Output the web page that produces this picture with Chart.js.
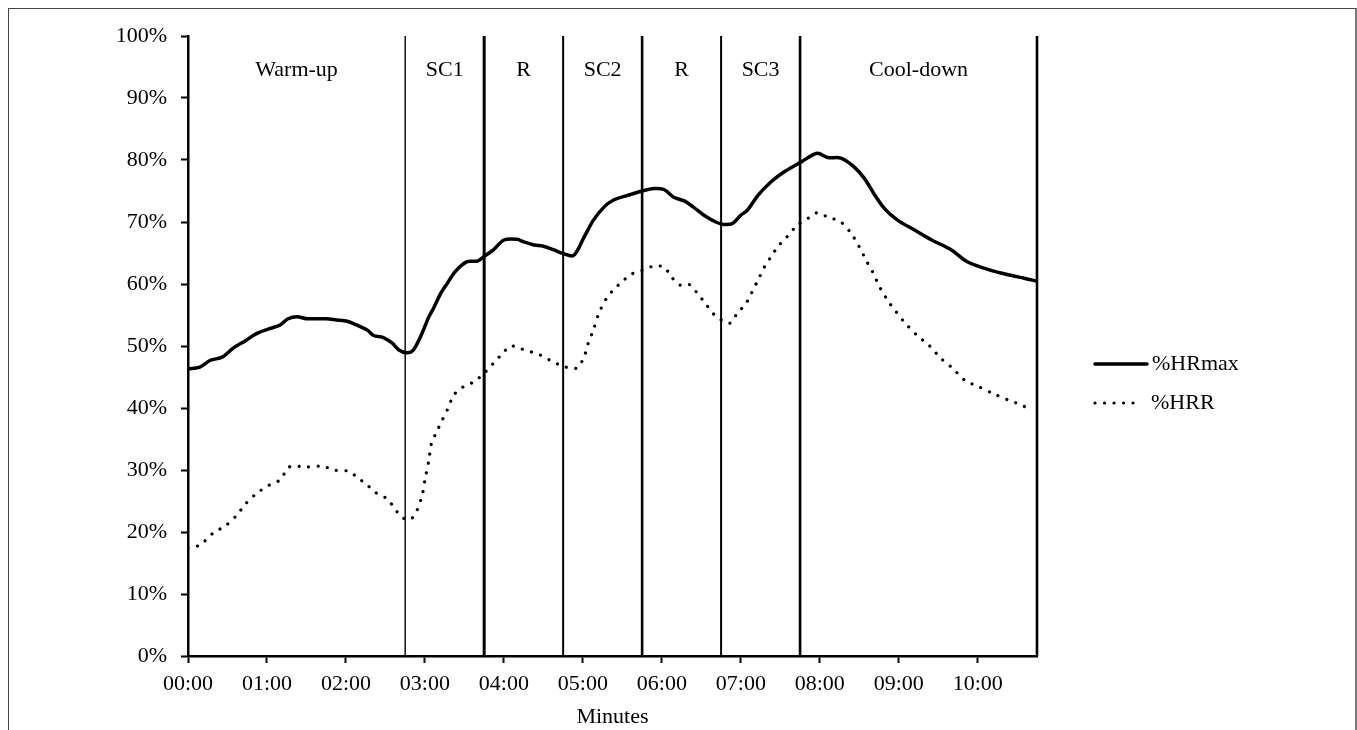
<!DOCTYPE html>
<html>
<head>
<meta charset="utf-8">
<script src="https://cdn.jsdelivr.net/npm/chart.js@4/dist/chart.umd.min.js"></script>
<style>
  html, body { margin: 0; padding: 0; background: #fff; width: 1357px; height: 730px; overflow: hidden; }
  #frame { position: absolute; left: 8px; top: 8px; width: 1346px; height: 740px;
           border-left: 1px solid #444; border-top: 1px solid #444; border-right: 2px solid #7a7a7a; }
  #wrap { position: absolute; left: 0; top: 0; width: 1357px; height: 730px; }
</style>
</head>
<body>
<div id="frame"></div>
<div id="wrap"><canvas id="c" width="1357" height="730"></canvas></div>
<script>
// ---- data (time in seconds, values in %) ----
const hrmaxSec = [0, 9, 17, 26, 34, 44, 52, 62, 70, 76, 83, 90, 105, 113, 121, 128, 136, 141, 148, 155, 160, 166, 171, 176, 183, 187, 192, 197, 203, 212, 220, 226, 232, 240, 250, 255, 263, 270, 278, 285, 293, 301, 308, 316, 323, 334, 345, 354, 362, 369, 377, 384, 392, 401, 407, 414, 420, 425, 433, 443, 453, 466, 478, 486, 496, 506, 514, 521, 529, 539, 552, 565, 580, 592, 610, 625, 636, 644];
const hrmaxPct = [46.3, 46.6, 47.7, 48.2, 49.6, 50.9, 52.0, 52.8, 53.4, 54.4, 54.7, 54.4, 54.4, 54.2, 54.0, 53.4, 52.6, 51.7, 51.4, 50.5, 49.4, 48.9, 49.3, 51.2, 54.7, 56.3, 58.5, 60.1, 62.0, 63.6, 63.7, 64.6, 65.5, 67.1, 67.2, 66.8, 66.3, 66.1, 65.5, 64.9, 64.6, 67.6, 70.3, 72.4, 73.5, 74.3, 75.0, 75.4, 75.2, 74.0, 73.4, 72.4, 71.1, 70.0, 69.6, 69.8, 71.1, 71.9, 74.3, 76.5, 78.1, 79.7, 81.1, 80.4, 80.3, 78.9, 77.0, 74.6, 72.2, 70.3, 68.7, 67.1, 65.5, 63.6, 62.2, 61.4, 60.9, 60.5];

const hrrSec = [0, 9, 19, 29, 37, 44, 52, 62, 70, 77, 90, 103, 110, 122, 128, 136, 143, 151, 156, 161, 166, 170, 174, 178, 180, 183, 185, 189, 193, 197, 202, 209, 217, 225, 232, 239, 245, 252, 260, 268, 275, 283, 291, 296, 301, 304, 308, 312, 318, 323, 331, 337, 345, 354, 362, 367, 374, 381, 387, 393, 400, 406, 412, 417, 424, 428, 433, 438, 443, 448, 455, 463, 471, 478, 486, 496, 504, 510, 516, 520, 523, 526, 533, 537, 544, 554, 563, 572, 581, 590, 601, 613, 623, 633, 640];
const hrrPct = [17.4, 17.9, 19.8, 21.1, 22.7, 24.6, 26.2, 27.6, 28.4, 30.5, 30.5, 30.6, 30.0, 29.8, 28.9, 27.6, 26.3, 25.4, 24.1, 22.7, 22.0, 22.2, 23.5, 26.0, 28.4, 31.6, 34.3, 36.2, 38.0, 39.7, 42.1, 43.4, 44.2, 45.6, 47.2, 48.8, 50.0, 49.6, 49.1, 48.5, 47.7, 46.9, 46.4, 46.5, 48.3, 50.4, 52.6, 55.2, 57.7, 59.0, 60.6, 61.6, 62.2, 62.9, 62.7, 61.2, 59.8, 59.9, 58.5, 56.9, 55.0, 54.1, 53.7, 55.2, 56.9, 58.5, 60.6, 62.8, 64.4, 66.0, 67.6, 69.5, 70.6, 71.5, 70.8, 70.0, 68.1, 66.0, 63.5, 62.0, 60.6, 59.3, 56.9, 55.8, 53.9, 51.7, 50.1, 48.0, 46.4, 44.5, 43.4, 42.2, 41.3, 40.5, 39.7];

const seriesNames = ['%HRmax', '%HRR'];

// phases (seconds)
const phaseNames = ['Warm-up', 'SC1', 'R', 'SC2', 'R', 'SC3', 'Cool-down'];
const phaseBounds = [0, 165, 225, 285, 345, 405, 465, 645];
// divider line widths for bounds 1..7
const dividerWidths = [1.4, 3, 2, 2.6, 2, 2.6, 2.6];

const xTickSec = [0, 60, 120, 180, 240, 300, 360, 420, 480, 540, 600];
const yTickPct = [0, 10, 20, 30, 40, 50, 60, 70, 80, 90, 100];

const FONT = "'Liberation Serif', 'Times New Roman', serif";
const FSIZE = 22;

function mmss(s) {
  const m = Math.floor(s / 60), r = s % 60;
  return String(m).padStart(2, '0') + ':' + String(r).padStart(2, '0');
}

const phasePlugin = {
  id: 'phases',
  beforeDatasetsDraw(chart) {
    const {ctx, chartArea, scales: {x}} = chart;
    ctx.save();
    ctx.strokeStyle = '#000';
    for (let i = 1; i < phaseBounds.length; i++) {
      const px = x.getPixelForValue(phaseBounds[i]);
      ctx.lineWidth = dividerWidths[i - 1];
      ctx.beginPath();
      ctx.moveTo(px, chartArea.top);
      ctx.lineTo(px, chartArea.bottom);
      ctx.stroke();
    }
    ctx.fillStyle = '#000';
    ctx.font = FSIZE + 'px ' + FONT;
    ctx.textAlign = 'center';
    ctx.textBaseline = 'middle';
    for (let i = 0; i < phaseNames.length; i++) {
      const cx = (x.getPixelForValue(phaseBounds[i]) + x.getPixelForValue(phaseBounds[i + 1])) / 2;
      ctx.fillText(phaseNames[i], cx, chartArea.top + 34);
    }
    ctx.restore();
  }
};

const legendPlugin = {
  id: 'sideLegend',
  afterDraw(chart) {
    const {ctx, chartArea} = chart;
    const x0 = chartArea.right + 57;
    const rowY = [chartArea.top + 328, chartArea.top + 367];
    ctx.save();
    chart.data.datasets.forEach((ds, i) => {
      const y = rowY[i];
      ctx.strokeStyle = ds.borderColor;
      ctx.lineWidth = ds.borderWidth;
      ctx.lineCap = 'round';
      ctx.setLineDash(ds.borderDash || []);
      ctx.beginPath();
      ctx.moveTo(x0 + 1, y);
      ctx.lineTo(i === 0 ? x0 + 53 : x0 + 47, y);
      ctx.stroke();
      ctx.setLineDash([]);
      ctx.fillStyle = '#000';
      ctx.font = FSIZE + 'px ' + FONT;
      ctx.textAlign = 'left';
      ctx.textBaseline = 'middle';
      ctx.fillText(ds.label, x0 + (i === 0 ? 58 : 57), y);
    });
    ctx.restore();
  }
};

new Chart(document.getElementById('c'), {
  type: 'line',
  data: {
    datasets: [
      {
        label: seriesNames[0],
        data: hrmaxSec.map((s, i) => ({x: s, y: hrmaxPct[i]})),
        borderColor: '#000',
        borderWidth: 3.5,
        pointRadius: 0,
        tension: 0.3,
        borderCapStyle: 'round',
        borderJoinStyle: 'round'
      },
      {
        label: seriesNames[1],
        data: hrrSec.map((s, i) => ({x: s, y: hrrPct[i]})),
        borderColor: '#000',
        borderWidth: 3.2,
        borderDash: [0.01, 9.5],
        borderCapStyle: 'round',
        pointRadius: 0,
        tension: 0.3
      }
    ]
  },
  options: {
    responsive: false,
    animation: false,
    layout: { padding: { left: 0, top: 36, right: 320, bottom: 0 } },
    plugins: { legend: { display: false }, tooltip: { enabled: false } },
    scales: {
      x: {
        type: 'linear',
        min: 0,
        max: 645,
        afterBuildTicks(scale) { scale.ticks = xTickSec.map(v => ({value: v})); },
        afterFit(scale) { scale.height = 74; },
        ticks: {
          callback: v => mmss(v),
          color: '#000',
          font: { family: FONT, size: FSIZE },
          padding: 8,
          maxRotation: 0,
          autoSkip: false
        },
        grid: { display: true, drawOnChartArea: false, drawTicks: true, tickLength: 7, tickColor: '#000', tickWidth: 2 },
        border: { display: true, color: '#000', width: 2.5 },
        title: { display: true, text: 'Minutes', color: '#000', font: { family: FONT, size: FSIZE }, padding: { top: 0, bottom: 0 } }
      },
      y: {
        type: 'linear',
        min: 0,
        max: 100,
        afterBuildTicks(scale) { scale.ticks = yTickPct.map(v => ({value: v})); },
        afterFit(scale) { scale.width = 188; },
        ticks: {
          callback: v => v + '%',
          color: '#000',
          font: { family: FONT, size: FSIZE },
          padding: 14,
          autoSkip: false
        },
        grid: { display: true, drawOnChartArea: false, drawTicks: true, tickLength: 7, tickColor: '#000', tickWidth: 2 },
        border: { display: true, color: '#000', width: 2.5 }
      }
    }
  },
  plugins: [phasePlugin, legendPlugin]
});
</script>
</body>
</html>
